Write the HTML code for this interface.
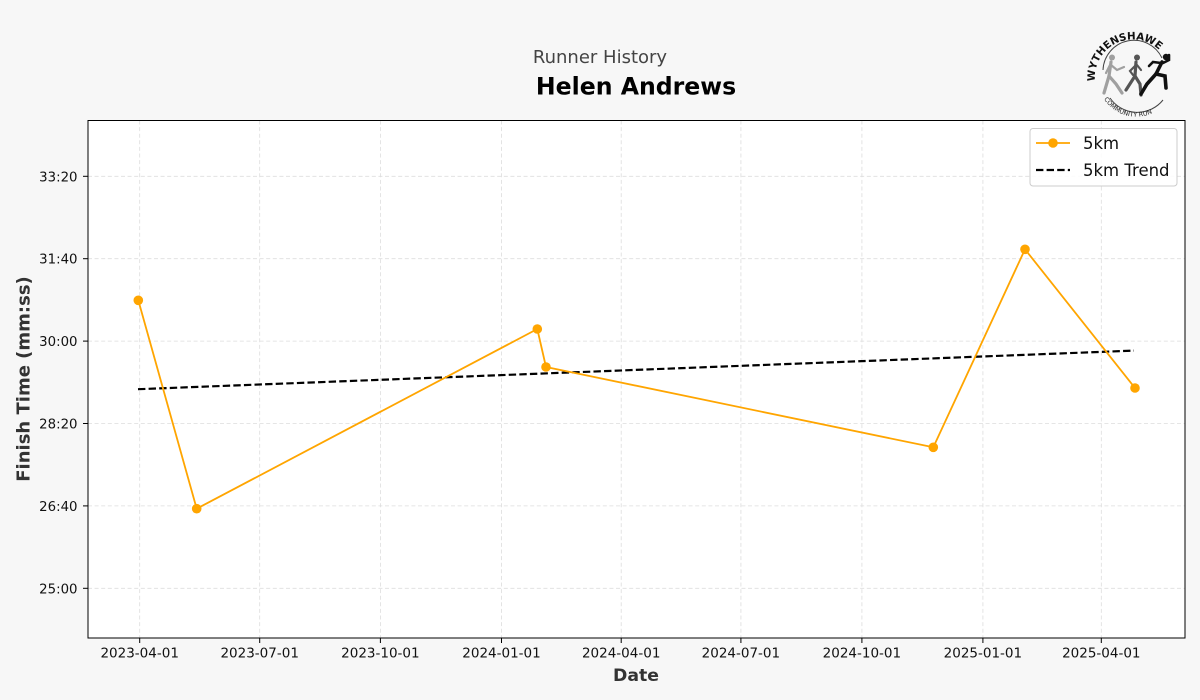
<!DOCTYPE html>
<html>
<head>
<meta charset="utf-8">
<style>
  html,body{margin:0;padding:0;background:#f7f7f7;}
  svg{display:block;}
  text{font-family:"DejaVu Sans","Liberation Sans",sans-serif;}
</style>
</head>
<body>
<svg width="1200" height="700" viewBox="0 0 1200 700" xmlns="http://www.w3.org/2000/svg">
  <rect x="0" y="0" width="1200" height="700" fill="#f7f7f7"/>

  <!-- Titles -->
  <text x="600" y="63" text-anchor="middle" font-size="18" fill="#444">Runner History</text>
  <text x="636" y="94.5" text-anchor="middle" font-size="23.6" font-weight="bold" fill="#000">Helen Andrews</text>

  <!-- Axes background -->
  <rect x="88" y="120.5" width="1097" height="517.5" fill="#ffffff"/>

  <!-- Grid -->
  <g stroke="#dddddd" stroke-width="0.8" stroke-dasharray="4 2.6" fill="none">
    <line x1="88" y1="176.3" x2="1185" y2="176.3"/>
    <line x1="88" y1="258.7" x2="1185" y2="258.7"/>
    <line x1="88" y1="341.1" x2="1185" y2="341.1"/>
    <line x1="88" y1="423.5" x2="1185" y2="423.5"/>
    <line x1="88" y1="505.9" x2="1185" y2="505.9"/>
    <line x1="88" y1="588.3" x2="1185" y2="588.3"/>
    <line x1="139.7" y1="120.5" x2="139.7" y2="638"/>
    <line x1="259.7" y1="120.5" x2="259.7" y2="638"/>
    <line x1="380.4" y1="120.5" x2="380.4" y2="638"/>
    <line x1="501.5" y1="120.5" x2="501.5" y2="638"/>
    <line x1="621.2" y1="120.5" x2="621.2" y2="638"/>
    <line x1="740.9" y1="120.5" x2="740.9" y2="638"/>
    <line x1="861.9" y1="120.5" x2="861.9" y2="638"/>
    <line x1="982.9" y1="120.5" x2="982.9" y2="638"/>
    <line x1="1101.3" y1="120.5" x2="1101.3" y2="638"/>
  </g>

  <!-- Trend -->
  <line x1="138" y1="389.2" x2="1134" y2="350.6" stroke="#000" stroke-width="2.2" stroke-dasharray="7.4 3.2"/>

  <!-- 5km series -->
  <polyline fill="none" stroke="#FFA500" stroke-width="1.8" stroke-linejoin="round"
    points="138.3,300.3 196.7,508.7 537.3,329 546,367 933.3,447.3 1025,249.3 1135,388"/>
  <g fill="#FFA500">
    <circle cx="138.3" cy="300.3" r="4.8"/>
    <circle cx="196.7" cy="508.7" r="4.8"/>
    <circle cx="537.3" cy="329" r="4.8"/>
    <circle cx="546" cy="367" r="4.8"/>
    <circle cx="933.3" cy="447.3" r="4.8"/>
    <circle cx="1025" cy="249.3" r="4.8"/>
    <circle cx="1135" cy="388" r="4.8"/>
  </g>

  <!-- Axes frame -->
  <rect x="88" y="120.5" width="1097" height="517.5" fill="none" stroke="#000" stroke-width="1"/>

  <!-- Y ticks -->
  <g stroke="#000" stroke-width="1">
    <line x1="83" y1="176.3" x2="88" y2="176.3"/>
    <line x1="83" y1="258.7" x2="88" y2="258.7"/>
    <line x1="83" y1="341.1" x2="88" y2="341.1"/>
    <line x1="83" y1="423.5" x2="88" y2="423.5"/>
    <line x1="83" y1="505.9" x2="88" y2="505.9"/>
    <line x1="83" y1="588.3" x2="88" y2="588.3"/>
  </g>
  <g font-size="13.3" fill="#111" text-anchor="end">
    <text x="77.5" y="181.3">33:20</text>
    <text x="77.5" y="263.7">31:40</text>
    <text x="77.5" y="346.1">30:00</text>
    <text x="77.5" y="428.5">28:20</text>
    <text x="77.5" y="510.9">26:40</text>
    <text x="77.5" y="593.3">25:00</text>
  </g>

  <!-- X ticks -->
  <g stroke="#000" stroke-width="1">
    <line x1="139.7" y1="638" x2="139.7" y2="643"/>
    <line x1="259.7" y1="638" x2="259.7" y2="643"/>
    <line x1="380.4" y1="638" x2="380.4" y2="643"/>
    <line x1="501.5" y1="638" x2="501.5" y2="643"/>
    <line x1="621.2" y1="638" x2="621.2" y2="643"/>
    <line x1="740.9" y1="638" x2="740.9" y2="643"/>
    <line x1="861.9" y1="638" x2="861.9" y2="643"/>
    <line x1="982.9" y1="638" x2="982.9" y2="643"/>
    <line x1="1101.3" y1="638" x2="1101.3" y2="643"/>
  </g>
  <g font-size="13.5" fill="#111" text-anchor="middle">
    <text x="139.7" y="657.5">2023-04-01</text>
    <text x="259.7" y="657.5">2023-07-01</text>
    <text x="380.4" y="657.5">2023-10-01</text>
    <text x="501.5" y="657.5">2024-01-01</text>
    <text x="621.2" y="657.5">2024-04-01</text>
    <text x="740.9" y="657.5">2024-07-01</text>
    <text x="861.9" y="657.5">2024-10-01</text>
    <text x="982.9" y="657.5">2025-01-01</text>
    <text x="1101.3" y="657.5">2025-04-01</text>
  </g>

  <!-- Axis labels -->
  <text x="636" y="681" text-anchor="middle" font-size="17.3" font-weight="bold" fill="#333">Date</text>
  <text transform="translate(29.5,379) rotate(-90)" text-anchor="middle" font-size="18" font-weight="bold" fill="#333">Finish Time (mm:ss)</text>

  <!-- Legend -->
  <rect x="1030" y="128.5" width="147" height="57.5" rx="3" ry="3" fill="#ffffff" fill-opacity="0.85" stroke="#cccccc" stroke-width="1"/>
  <line x1="1036" y1="143" x2="1070" y2="143" stroke="#FFA500" stroke-width="1.8"/>
  <circle cx="1053" cy="143" r="4.8" fill="#FFA500"/>
  <text x="1083" y="149" font-size="16.5" fill="#111">5km</text>
  <line x1="1036" y1="170" x2="1070" y2="170" stroke="#000" stroke-width="2.2" stroke-dasharray="7.4 3.2"/>
  <text x="1083" y="176" font-size="16.5" fill="#111">5km Trend</text>

  <!-- Logo -->
  <g>
    <defs>
      <path id="arcTop" d="M 1095.1 81.3 A 38 38 0 0 1 1162 53"/>
      <path id="arcBot" d="M 1104 99 A 38 38 0 0 0 1170 96"/>
    </defs>
    <text font-size="10.3" font-weight="bold" fill="#111">
      <textPath href="#arcTop">WYTHENSHAWE</textPath>
    </text>
    <path d="M 1103 70 A 31 31 0 0 1 1162 58" fill="none" stroke="#444" stroke-width="1"/>
    <path d="M 1110 98 A 33 33 0 0 0 1163 100" fill="none" stroke="#444" stroke-width="1"/>
    <text font-size="6.3" fill="#222">
      <textPath href="#arcBot">COMMUNITY RUN</textPath>
    </text>
    <!-- runner 1 light -->
    <g stroke="#a0a0a0" stroke-width="3.2" stroke-linecap="round" fill="none">
      <circle cx="1112" cy="57.5" r="3" fill="#a0a0a0" stroke="none"/>
      <path d="M1111 62 L1109 76 L1104 93"/>
      <path d="M1109 76 L1116 84 L1122 93"/>
      <path d="M1111 65 L1117 70 L1124 67" stroke-width="2.2"/>
      <path d="M1110 65 L1106 73" stroke-width="2.2"/>
    </g>
    <!-- runner 2 mid -->
    <g stroke="#555" stroke-width="3.2" stroke-linecap="round" fill="none">
      <circle cx="1137" cy="57.5" r="3" fill="#555" stroke="none"/>
      <path d="M1136 62 L1135 76 L1126 90"/>
      <path d="M1135 76 L1140 84 L1141 95"/>
      <path d="M1136 65 L1130 71 L1133 75" stroke-width="2.2"/>
      <path d="M1137 65 L1141 70" stroke-width="2.2"/>
    </g>
    <!-- runner 3 dark -->
    <g stroke="#111" stroke-width="3.6" stroke-linecap="round" fill="none">
      <circle cx="1166" cy="57" r="3.2" fill="#111" stroke="none"/>
      <path d="M1162 62 L1156 74 L1147 84 L1141 94"/>
      <path d="M1156 74 L1165 76 L1166 88"/>
      <path d="M1161 63 L1153 62 L1149 66" stroke-width="2.6"/>
      <path d="M1163 63 L1169 60 L1169 55" stroke-width="2.6"/>
    </g>
  </g>
</svg>
</body>
</html>
